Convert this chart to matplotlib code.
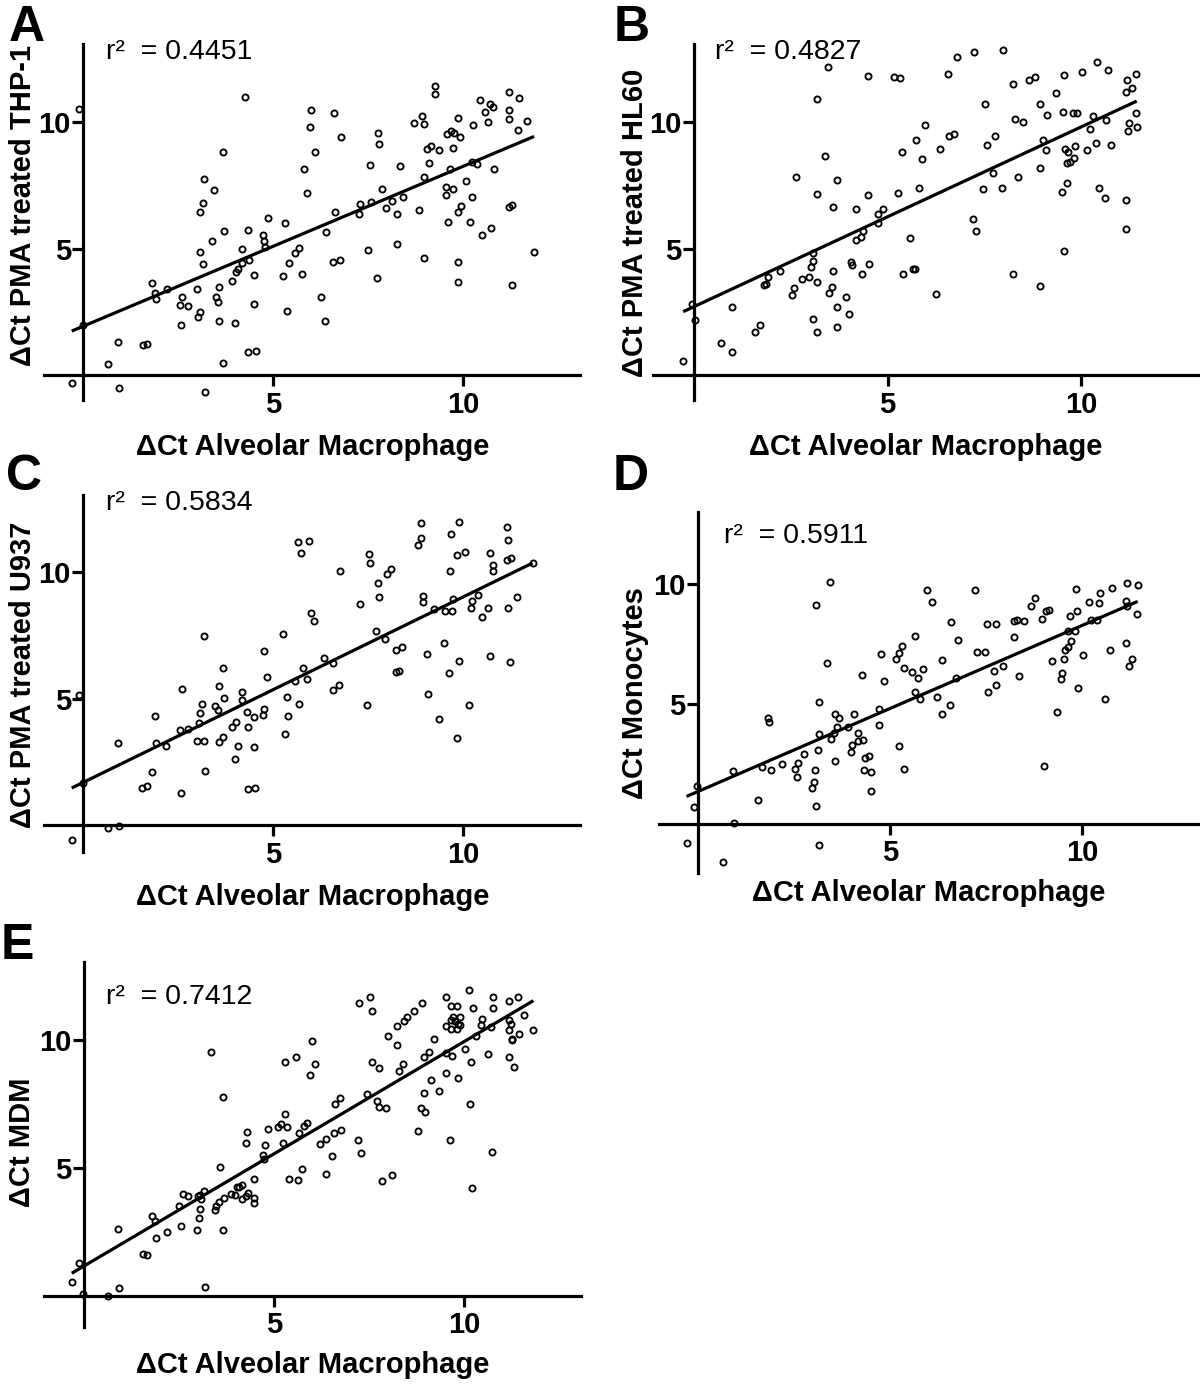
import matplotlib
matplotlib.use("Agg")
import matplotlib.pyplot as plt
import numpy as np

plt.rcParams['font.family'] = ['Liberation Sans', 'DejaVu Sans']

# ---------------- data (ΔCt values) ----------------
thp1_pts = [(-0.11,10.52),(4.25,11.02),(3.68,8.82),(3.17,7.77),(3.44,7.32),(3.14,6.81),(3.07,6.47),(3.71,5.72),
 (4.32,5.74),(3.37,5.30),(4.86,6.24),(4.73,5.54),(4.75,5.33),(4.78,5.09),(4.18,4.99),(3.07,4.89),(3.14,4.41),
 (4.36,4.58),(4.16,4.46),(4.06,4.22),(4.01,4.10),(4.49,3.96),(1.81,3.67),(1.88,3.25),(1.91,3.02),(2.19,3.41),
 (2.60,3.11),(2.54,2.79),(2.76,2.75),(2.98,3.42),(3.07,2.52),(3.02,2.30),(2.57,2.00),(3.48,3.11),(3.55,2.92),
 (3.57,3.51),(3.92,3.74),(3.57,2.15),(4.00,2.09),(4.49,2.83),(-0.02,2.00),(0.92,1.31),(1.56,1.21),(1.66,1.25),
 (0.65,0.44),(4.34,0.93),(4.53,0.97),(3.66,0.51),(-0.31,-0.31),(0.94,-0.48),(3.20,-0.66),
 (9.25,11.45),(9.25,11.13),(11.20,11.22),(11.47,10.97),(10.43,10.90),(10.70,10.72),(10.78,10.61),(10.58,10.40),
 (11.19,10.51),(11.19,10.12),(11.68,10.04),(11.45,9.72),(10.66,10.02),(10.26,9.91),(9.85,10.18),(8.90,10.26),
 (8.69,9.98),(8.96,9.94),(6.00,10.49),(6.59,10.38),(5.96,9.82),(6.78,9.44),(6.09,8.85),(7.76,9.57),(7.78,9.16),
 (5.80,8.15),(5.89,7.20),(6.62,6.47),(6.38,5.67),(7.54,8.32),(8.33,8.29),(7.25,6.37),(7.29,6.78),(7.58,6.87),
 (7.85,7.36),(7.96,6.61),(8.13,6.88),(8.40,7.04),(8.24,6.37),(8.97,7.86),(9.09,8.39),(9.04,8.95),(9.14,9.07),
 (9.37,8.91),(9.56,9.55),(9.67,9.66),(9.76,9.60),(9.91,9.41),(9.72,8.98),(9.65,8.15),(9.54,7.44),(9.72,7.37),
 (9.53,7.12),(10.06,7.69),(10.24,8.44),(10.35,8.35),(10.80,8.15),(10.22,7.04),(9.93,6.69),(9.85,6.46),(9.59,6.08),
 (10.17,6.05),(10.50,5.54),(10.74,5.82),(11.19,6.65),(11.28,6.73),(8.83,6.54),(11.86,4.89),(9.87,4.49),(9.85,3.71),
 (11.27,3.56),(8.96,4.66),(8.24,5.19),(7.48,4.96),(7.72,3.87),(6.56,4.47),(6.75,4.58),(6.25,3.09),(6.37,2.15),
 (5.36,2.54),(5.31,6.02),(5.26,3.93),(5.40,4.43),(5.58,4.85),(5.68,5.04),(5.74,4.01)]

hl60_pts = [(3.45,12.21),(4.50,11.84),(3.19,10.92),(3.39,8.68),(2.64,7.86),(3.69,7.73),(3.17,7.17),(4.49,7.12),
 (3.60,6.65),(4.19,6.57),(4.75,6.37),(4.75,6.04),(4.37,5.72),(4.32,5.46),(4.19,5.36),(3.08,4.83),(3.08,4.54),
 (3.02,4.30),(2.98,3.91),(3.19,3.71),(4.05,4.50),(4.09,4.37),(4.53,4.41),(4.35,4.01),(3.60,4.14),(2.22,4.14),
 (1.92,3.91),(1.86,3.62),(1.82,3.58),(2.78,3.80),(2.58,3.45),(2.54,3.18),(3.57,3.49),(3.49,3.25),(3.92,3.09),
 (3.70,2.70),(4.01,2.43),(3.07,2.23),(3.17,1.72),(3.69,1.93),(-0.06,2.83),(0.03,2.19),(0.97,2.72),(1.58,1.71),
 (1.71,2.00),(0.70,1.30),(0.99,0.94),(-0.28,0.57),
 (5.17,11.81),(5.32,11.76),(6.56,11.90),(6.79,12.57),(7.24,12.77),(7.99,12.87),(8.23,11.51),(8.66,11.68),
 (8.81,11.79),(9.56,11.89),(10.03,12.01),(10.41,12.40),(10.71,12.09),(11.42,11.90),(11.18,11.68),(11.32,11.35),
 (11.16,11.21),(9.35,11.17),(7.52,10.73),(8.95,10.72),(9.53,10.40),(9.80,10.36),(9.89,10.39),(9.13,10.28),
 (10.32,10.26),(10.65,10.10),(11.41,10.38),(11.23,9.97),(11.44,9.82),(11.22,9.65),(10.22,9.73),(8.30,10.14),
 (8.51,10.01),(5.96,9.90),(5.74,9.31),(6.60,9.47),(6.73,9.55),(7.79,9.47),(7.58,9.10),(6.36,8.95),(5.37,8.82),
 (5.88,8.57),(9.03,9.31),(9.09,8.91),(9.59,8.94),(9.67,8.85),(9.84,9.08),(10.15,8.90),(10.39,9.20),(10.77,9.12),
 (9.63,8.41),(9.72,8.45),(9.83,8.58),(8.95,8.19),(8.38,7.86),(7.73,8.02),(7.48,7.36),(7.96,7.41),(9.64,7.61),
 (9.51,7.24),(10.47,7.42),(10.62,7.00),(11.16,6.94),(11.16,5.79),(5.26,7.20),(5.81,7.40),(4.88,6.57),(7.22,6.17),
 (7.29,5.72),(5.58,5.42),(9.57,4.93),(5.41,4.00),(5.66,4.19),(5.70,4.21),(6.25,3.22),(8.23,4.00),(8.94,3.54)]

u937_pts = [(-0.12,5.15),(5.24,7.55),(3.16,7.48),(4.76,6.89),(3.67,6.22),(4.83,5.85),(2.60,5.40),(3.58,5.52),
 (4.17,5.26),(4.17,4.97),(3.70,5.02),(3.13,4.79),(3.47,4.73),(3.54,4.56),(3.06,4.45),(4.31,4.49),(4.48,4.29),
 (4.74,4.58),(4.72,4.36),(5.35,5.06),(5.39,4.32),(1.88,4.33),(3.04,4.03),(2.53,3.77),(2.75,3.79),(4.02,4.07),
 (3.91,3.87),(4.34,3.87),(5.31,3.60),(3.00,3.33),(3.16,3.33),(3.67,3.50),(3.56,3.30),(1.90,3.24),(2.18,3.13),
 (0.91,3.24),(4.06,3.15),(4.48,3.11),(3.98,2.63),(1.81,2.12),(3.19,2.16),(0.0,1.66),(1.55,1.46),(1.66,1.55),
 (2.56,1.26),(4.33,1.42),(4.52,1.46),(0.65,-0.09),(0.94,-0.03),(-0.31,-0.58),
 (8.88,11.94),(9.88,11.98),(11.16,11.78),(11.18,11.26),(5.64,11.20),(5.94,11.25),(5.73,10.78),(8.89,11.37),
 (8.80,11.08),(9.67,11.50),(9.82,10.70),(10.03,10.81),(10.70,10.78),(11.16,10.49),(11.25,10.55),(10.77,10.28),
 (10.78,10.06),(11.82,10.37),(7.52,10.72),(7.55,10.36),(6.76,10.06),(8.00,9.92),(8.10,10.12),(7.75,9.56),
 (7.77,9.04),(7.28,8.75),(8.94,9.08),(8.94,8.81),(9.65,10.06),(9.22,8.55),(9.51,8.48),(9.70,8.48),(9.73,8.93),
 (10.23,8.88),(10.21,8.60),(10.39,9.10),(10.64,8.57),(10.48,8.22),(11.42,9.02),(11.17,8.57),(5.99,8.40),
 (6.08,8.08),(7.71,7.69),(7.95,7.38),(8.23,6.92),(8.38,7.05),(8.22,6.06),(8.31,6.09),(9.50,7.21),(9.03,6.78),
 (9.89,6.48),(9.63,6.02),(10.69,6.68),(11.24,6.47),(9.07,5.19),(10.15,4.77),(9.35,4.19),(9.82,3.46),(7.46,4.74),
 (6.34,6.60),(6.58,6.43),(5.79,6.23),(5.58,5.72),(5.88,5.80),(6.58,5.36),(6.73,5.53),(5.66,4.79)]

mono_pts = [(3.44,10.09),(3.08,9.13),(3.37,6.72),(4.77,7.08),(4.26,6.20),(4.85,5.94),(3.16,5.06),(1.82,4.41),
 (1.86,4.23),(3.58,4.59),(3.67,4.42),(4.06,4.59),(4.72,4.79),(4.72,4.13),(3.92,4.04),(3.63,4.04),(3.55,3.79),
 (3.15,3.76),(3.47,3.54),(4.16,3.79),(4.31,3.48),(4.02,3.30),(4.16,3.44),(3.99,3.00),(3.14,3.09),(2.76,2.93),
 (2.62,2.56),(2.53,2.30),(2.57,1.95),(2.18,2.51),(1.68,2.37),(1.91,2.26),(3.58,2.63),(4.35,2.75),(4.46,2.84),
 (4.33,2.26),(4.51,2.15),(3.05,2.26),(3.03,1.75),(2.97,1.48),(4.50,1.38),(3.08,0.76),(0.93,2.22),(1.58,1.01),
 (-0.01,1.60),(-0.09,0.73),(0.95,0.04),(-0.29,-0.80),(3.16,-0.87),(0.67,-1.56),
 (5.95,9.73),(6.08,9.23),(7.21,9.73),(5.64,7.84),(6.59,8.40),(6.77,7.65),(7.51,8.34),(7.76,8.33),(8.23,8.47),
 (8.29,8.51),(8.49,8.44),(8.67,9.07),(8.78,9.40),(8.94,8.55),(9.05,8.85),(9.13,8.92),(8.22,7.78),(7.27,7.17),
 (7.46,7.16),(9.83,9.80),(9.86,8.87),(9.67,8.65),(10.18,9.24),(10.43,9.19),(10.46,9.60),(10.77,9.83),(11.16,10.04),
 (11.44,9.93),(11.14,9.28),(11.15,9.09),(11.43,8.73),(10.22,8.50),(10.38,8.50),(9.62,8.02),(9.81,8.02),(9.71,7.62),
 (9.62,7.37),(9.56,7.24),(9.53,6.88),(9.22,6.77),(10.01,7.05),(9.48,6.29),(9.45,6.05),(9.88,5.66),(10.71,7.23),
 (11.14,7.53),(11.30,6.88),(11.22,6.58),(10.60,5.20),(9.34,4.68),(9.01,2.40),(7.70,6.37),(7.75,5.79),(7.95,6.58),
 (7.56,5.51),(8.36,6.15),(6.35,6.84),(6.72,6.08),(6.23,5.30),(6.34,4.59),(6.56,4.94),(5.16,6.88),(5.23,7.12),
 (5.30,7.40),(5.36,6.48),(5.56,6.31),(5.72,6.06),(5.86,6.45),(5.65,5.49),(5.79,5.19),(5.24,3.26),(5.37,2.28)]

mdm_pts = [(3.36,9.54),(3.67,7.76),(4.30,6.39),(4.85,6.51),(4.26,5.99),(4.76,5.89),(4.72,5.51),(4.74,5.34),
 (5.11,6.61),(3.58,5.05),(4.48,4.56),(4.17,4.34),(4.02,4.27),(4.08,4.25),(4.33,4.01),(4.28,3.92),(4.48,3.84),
 (4.47,3.64),(4.17,3.79),(3.87,3.97),(3.98,3.95),(3.70,3.82),(3.56,3.66),(3.47,3.53),(3.45,3.36),(3.16,4.10),
 (3.06,3.95),(3.00,3.92),(3.08,3.79),(2.60,3.97),(2.75,3.92),(2.51,3.53),(3.06,3.39),(3.04,3.04),(2.97,2.58),
 (2.56,2.75),(3.67,2.58),(1.81,3.13),(1.88,2.94),(2.18,2.51),(1.90,2.25),(0.91,2.60),(1.55,1.63),(1.67,1.60),
 (-0.11,1.30),(-0.31,0.53),(-0.02,0.07),(0.65,0.0),(0.94,0.30),(3.19,0.36),
 (10.12,11.94),(9.53,11.67),(9.66,11.33),(9.82,11.32),(10.76,11.68),(10.77,11.27),(11.18,11.51),(11.42,11.68),
 (10.23,11.25),(7.23,11.43),(7.52,11.68),(7.59,11.15),(8.88,11.46),(8.67,11.13),(8.51,10.89),(8.41,10.73),
 (8.23,10.56),(7.99,10.14),(8.23,9.80),(9.22,10.03),(9.70,10.89),(9.66,10.78),(9.90,10.91),(9.84,10.62),
 (9.53,10.56),(9.65,10.42),(9.82,10.42),(9.88,10.59),(9.75,10.76),(10.48,10.83),(10.43,10.59),(10.71,10.52),
 (10.32,10.16),(11.18,10.78),(11.24,10.64),(11.18,10.40),(11.25,10.03),(11.26,9.99),(11.44,10.22),(11.56,10.98),
 (11.82,10.38),(10.03,9.65),(10.19,9.15),(10.63,9.47),(11.18,9.34),(11.32,8.95),(9.51,9.48),(9.69,9.38),
 (9.07,9.52),(8.94,9.34),(9.52,8.71),(9.84,8.53),(9.12,8.44),(9.35,8.02),(8.94,7.93),(8.87,7.36),(8.97,7.19),
 (10.16,7.50),(8.80,6.46),(9.63,6.08),(10.72,5.64),(10.21,4.22),(7.57,9.13),(7.75,8.89),(8.38,9.06),(8.30,8.80),
 (7.46,7.90),(7.71,7.63),(7.77,7.38),(7.95,7.33),(5.99,9.96),(5.30,9.13),(5.57,9.35),(5.94,8.64),(6.08,9.05),
 (6.60,7.51),(6.73,7.72),(5.30,7.11),(5.20,6.72),(5.35,6.59),(5.79,6.63),(5.88,6.77),(5.66,6.37),(5.24,5.99),
 (6.22,5.94),(6.36,6.12),(6.58,6.37),(6.77,6.47),(7.21,6.11),(7.28,5.57),(6.54,5.47),(6.36,4.78),(5.39,4.56),
 (5.64,4.52),(5.73,4.95),(7.83,4.51),(8.10,4.73)]

# linear fits (intercept, slope) and r^2 values
fit_params = {'A': (1.95, 0.632), 'B': (2.72, 0.710), 'C': (1.70, 0.733), 'D': (1.35, 0.692), 'E': (1.16, 0.878)}
r2_values = {'A': '0.4451', 'B': '0.4827', 'C': '0.5834', 'D': '0.5911', 'E': '0.7412'}
ylabels = {'A': 'ΔCt PMA treated THP-1', 'B': 'ΔCt PMA treated HL60', 'C': 'ΔCt PMA treated U937',
           'D': 'ΔCt Monocytes', 'E': 'ΔCt MDM'}
xlabel = 'ΔCt Alveolar Macrophage'
tick_values = [5, 10]

# ---------------- layout ----------------
W, H = 1200, 1385
fig = plt.figure(figsize=(W / 100, H / 100), dpi=100)

def rect(l, t, r, b):
    return [l / W, 1 - b / H, (r - l) / W, (b - t) / H]

layout = {
    'A': dict(pts=thp1_pts, rect=rect(43.6, 44, 580, 400), xlim=(-1.05, 13.07), ylim=(-0.97, 13.1),
              r2pos=(0.59, 12.8), letter=(27, 28), ylab=(23, 206), xlab=(313, 447)),
    'B': dict(pts=hl60_pts, rect=rect(653.4, 44, 1199.8, 400), xlim=(-1.05, 13.07), ylim=(-0.97, 13.1),
              r2pos=(0.54, 12.8), letter=(632, 28), ylab=(635, 223), xlab=(926, 447)),
    'C': dict(pts=u937_pts, rect=rect(43.6, 495.1, 580, 851.6), xlim=(-1.05, 13.07), ylim=(-1.04, 13.05),
              r2pos=(0.59, 12.73), letter=(24, 477), ylab=(23, 675), xlab=(313, 897)),
    'D': dict(pts=mono_pts, rect=rect(658.5, 511.7, 1200, 873.3), xlim=(-1.02, 13.06), ylim=(-2.05, 13.0),
              r2pos=(0.68, 11.98), letter=(631, 477), ylab=(635, 693), xlab=(929, 893)),
    'E': dict(pts=mdm_pts, rect=rect(43.6, 961.7, 581, 1326.7), xlim=(-1.05, 13.07), ylim=(-1.2, 13.06),
              r2pos=(0.59, 11.69), letter=(17, 946), ylab=(22, 1142), xlab=(313, 1365)),
}

LW = 2.3
for key, cfg in layout.items():
    ax = fig.add_axes(cfg['rect'])
    pts = np.array(cfg['pts'])
    x, y = pts[:, 0], pts[:, 1]
    b0, b1 = fit_params[key]
    xs = np.array([x.min(), x.max()])
    ax.plot(xs, b0 + b1 * xs, color='black', lw=LW, solid_capstyle='butt', zorder=2)
    ax.plot(x, y, 'o', mfc='none', mec='black', ms=4.4, mew=1.35, clip_on=False, zorder=3)
    ax.set_xlim(*cfg['xlim'])
    ax.set_ylim(*cfg['ylim'])
    for s in ('top', 'right'):
        ax.spines[s].set_visible(False)
    ax.spines['left'].set_position(('data', 0))
    ax.spines['bottom'].set_position(('data', 0))
    for s in ('left', 'bottom'):
        ax.spines[s].set_linewidth(LW)
    ax.set_xticks(tick_values)
    ax.set_yticks(tick_values)
    ax.tick_params(direction='out', width=LW, length=8, labelsize=21)
    ax.tick_params(axis='x', pad=3)
    ax.tick_params(axis='y', pad=1)
    for lab in ax.get_xticklabels() + ax.get_yticklabels():
        lab.set_fontweight('bold')
    ax.patch.set_alpha(0)
    ax.text(cfg['r2pos'][0], cfg['r2pos'][1], 'r²  = ' + r2_values[key], fontsize=20.5,
            ha='left', va='center')
    fig.text(cfg['letter'][0] / W, 1 - cfg['letter'][1] / H, key, fontsize=36, fontweight='bold',
             ha='center', va='center')
    fig.text(cfg['ylab'][0] / W, 1 - cfg['ylab'][1] / H, ylabels[key], fontsize=21, fontweight='bold',
             rotation=90, ha='center', va='center')
    fig.text(cfg['xlab'][0] / W, 1 - cfg['xlab'][1] / H, xlabel, fontsize=21, fontweight='bold',
             ha='center', va='center')

fig.savefig('out.png', dpi=100)
